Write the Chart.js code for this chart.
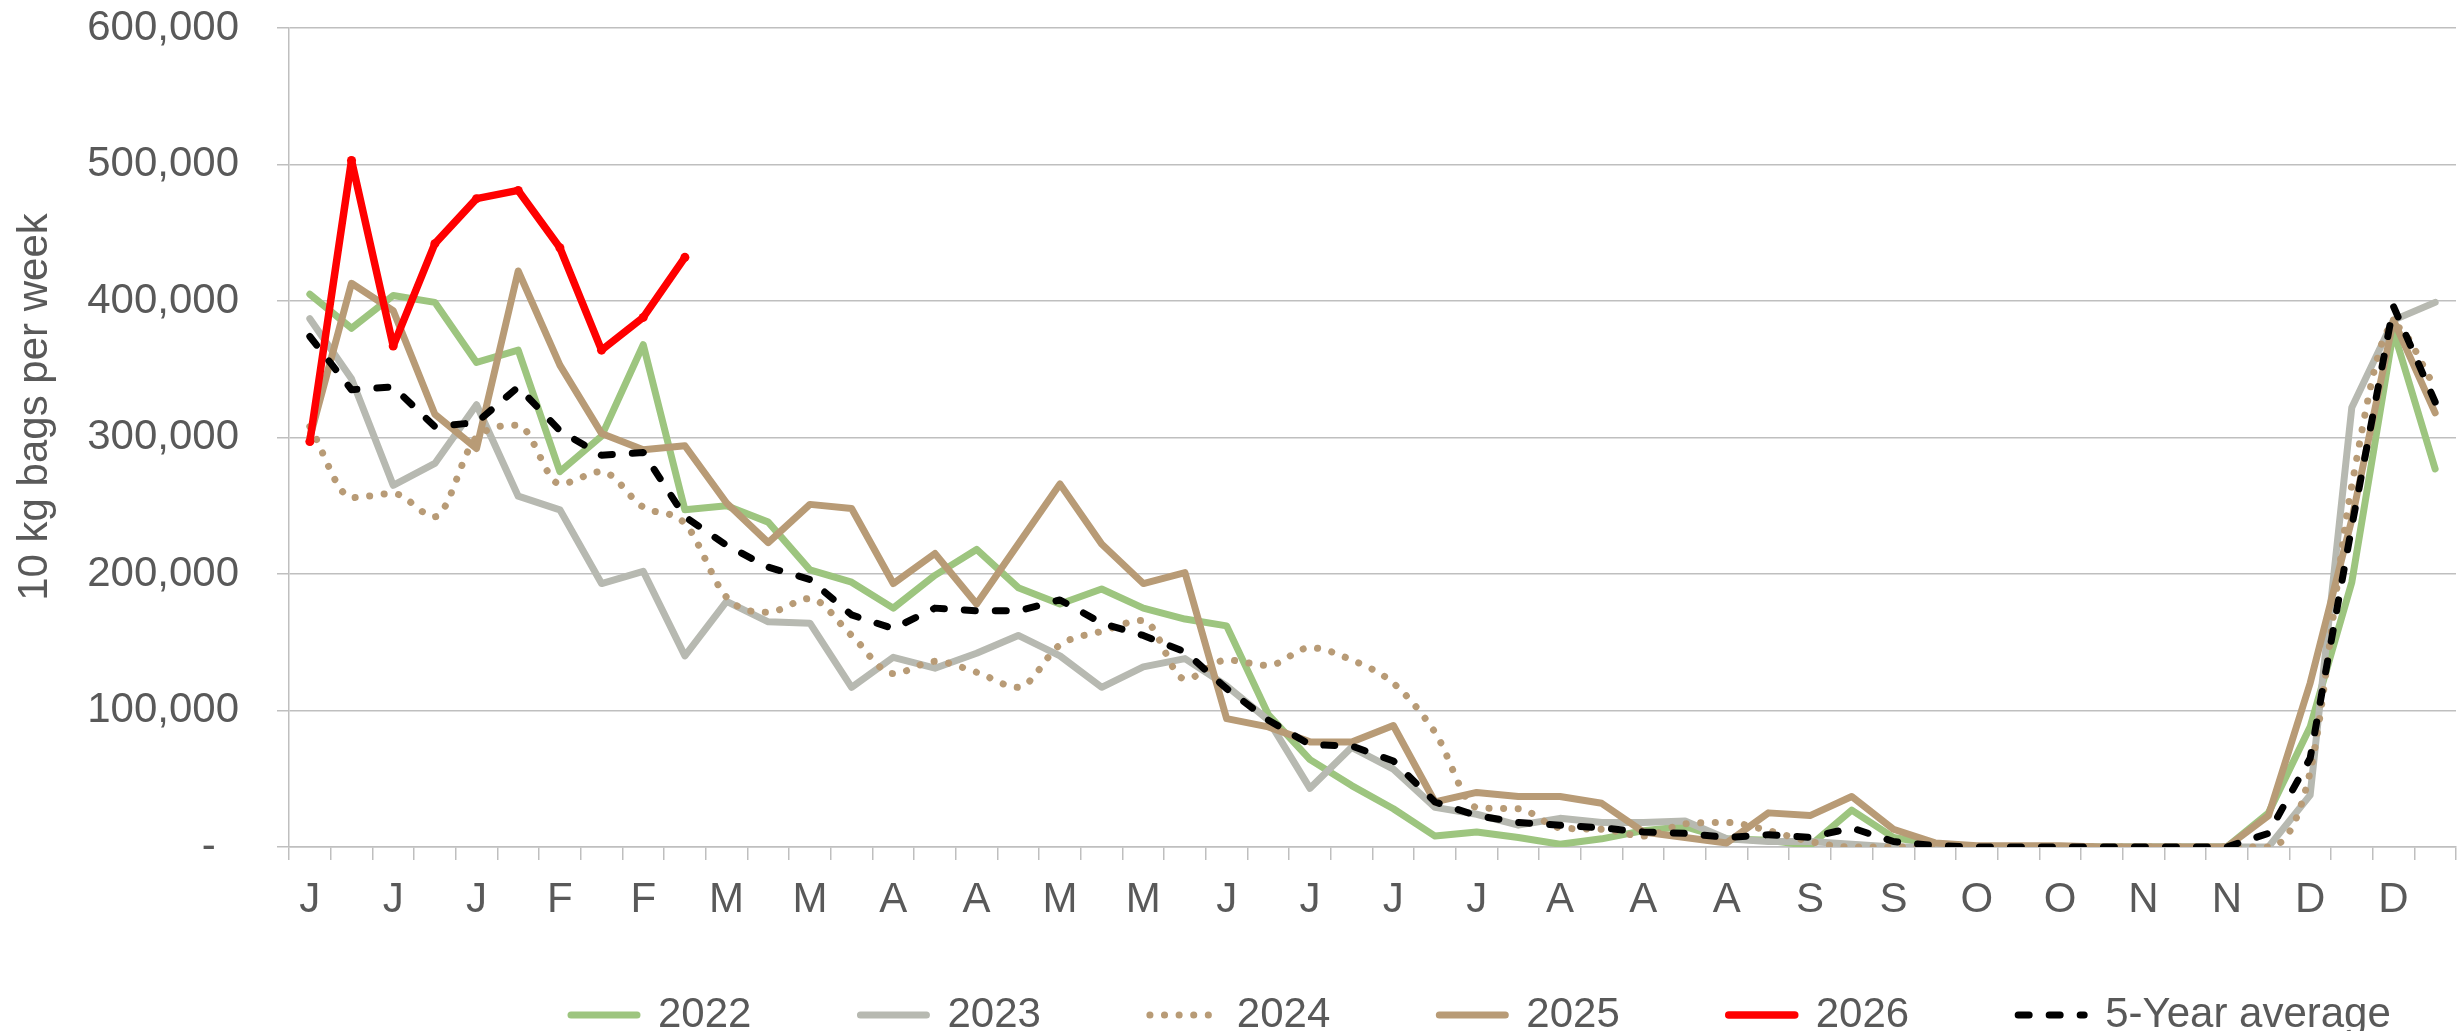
<!DOCTYPE html>
<html>
<head>
<meta charset="utf-8">
<title>10 kg bags per week</title>
<script src="https://cdn.jsdelivr.net/npm/chart.js@4.4.1/dist/chart.umd.min.js"></script>
<style>
  html, body { margin: 0; padding: 0; background: #ffffff; }
  #wrap { width: 2463px; height: 1031px; }
</style>
</head>
<body>
<div id="wrap"><canvas id="bagsChart" width="2463" height="1031"></canvas></div>
<script>
// Week numbers (x categories) and the month letter shown under every other week
const weekNumbers = [1, 2, 3, 4, 5, 6, 7, 8, 9, 10, 11, 12, 13, 14, 15, 16, 17, 18, 19, 20,
    21, 22, 23, 24, 25, 26, 27, 28, 29, 30, 31, 32, 33, 34, 35, 36, 37, 38, 39, 40,
    41, 42, 43, 44, 45, 46, 47, 48, 49, 50, 51, 52];
const monthTicks = ["J", "J", "J", "F", "F", "M", "M", "A", "A", "M", "M", "J", "J",
    "J", "J", "A", "A", "A", "S", "S", "O", "O", "N", "N", "D", "D"];

// Bags per week
const bags2022 = [405000, 380000, 404000, 399000, 355000, 364000, 275000, 301000, 368000, 247000,
    250000, 238000, 203000, 194000, 175000, 199000, 218000, 190000, 178000, 189000,
    175000, 167000, 162000, 97000, 64000, 45000, 28000, 8000, 11000, 7000,
    2000, 6000, 12000, 15000, 6000, 5000, 1000, 27000, 7000, 2000,
    0, 0, 0, 0, 0, 0, 0, 25000, 88000, 194000, 378000, 277000];
const bags2023 = [387000, 343000, 265000, 281000, 324000, 257000, 247000, 193000, 202000, 140000,
    180000, 165000, 164000, 117000, 139000, 131000, 142000, 155000, 140000, 117000,
    132000, 138000, 118000, 93000, 43000, 73000, 57000, 29000, 24000, 16000,
    21000, 18000, 18000, 19000, 6000, 4000, 4000, 2000, 0, 0,
    0, 0, 0, 0, 0, 0, 0, 0, 38000, 322000, 386000, 399000];
const bags2024 = [308000, 256000, 259000, 242000, 300000, 309000, 266000, 275000, 249000, 237000,
    183000, 172000, 182000, 155000, 127000, 136000, 128000, 117000, 148000, 158000,
    166000, 123000, 137000, 133000, 146000, 137000, 120000, 84000, 29000, 28000,
    14000, 13000, 8000, 17000, 18000, 12000, 4000, 0, 0, 0,
    0, 0, 0, 0, 0, 0, 0, 0, 55000, 265000, 382000, 337000];
const bags2025 = [300000, 413000, 393000, 317000, 292000, 422000, 353000, 303000, 291000, 294000,
    252000, 223000, 251000, 248000, 193000, 215000, 178000, 222000, 266000, 222000,
    193000, 201000, 94000, 88000, 77000, 77000, 89000, 33000, 40000, 37000,
    37000, 32000, 11000, 7000, 3000, 25000, 23000, 37000, 13000, 3000,
    1000, 1000, 1000, 0, 0, 0, 0, 23000, 120000, 240000, 386000, 318000];
const bags2026 = [297000, 503000, 367000, 442000, 475000, 481000, 439000, 364000, 388000, 432000];
const fiveYearAvg = [374000, 335000, 337000, 308000, 311000, 337000, 305000, 287000, 289000, 242000,
    221000, 205000, 196000, 170000, 160000, 175000, 173000, 173000, 181000, 164000,
    155000, 143000, 116000, 93000, 75000, 74000, 63000, 33000, 23000, 18000,
    16000, 14000, 11000, 10000, 7000, 9000, 7000, 14000, 4000, 1000,
    0, 0, 0, 0, 0, 0, 0, 10000, 65000, 235000, 396000, 326000];

const textGrey = "#595959";
const gridGrey = "#BFBFBF";
const fontFamily = "'Liberation Sans', Arial, sans-serif";

// y axis title, drawn off-centre like the original
const yTitle = {
    id: "yTitle",
    afterDraw(chart) {
        const ctx = chart.ctx;
        ctx.save();
        ctx.translate(47, 407);
        ctx.rotate(-Math.PI / 2);
        ctx.font = "42px " + fontFamily;
        ctx.fillStyle = textGrey;
        ctx.textAlign = "center";
        ctx.textBaseline = "alphabetic";
        ctx.fillText("10 kg bags per week", 0, 0);
        ctx.restore();
    },
};

// move the legend row to where it sits in the original
const legendPlace = {
    id: "legendPlace",
    afterLayout(chart) {
        const lg = chart.legend;
        const pad = lg.options.labels.padding;
        const dx = 571 - pad - lg.left;
        lg.left += dx;
        lg.right += dx;
        lg.top = 1015 - 21 - pad;
        lg.bottom = chart.height + 20; // legend clips to its own box
    },
};

// legend swatches: a short line with the series' own width, colour and dash
function legendLines(chart) {
    const items = Chart.defaults.plugins.legend.labels.generateLabels(chart);
    items.forEach((item) => {
        const ds = chart.data.datasets[item.datasetIndex];
        item.strokeStyle = ds.borderColor;
        item.fillStyle = ds.borderColor;
        item.lineWidth = ds.borderWidth;
        item.lineDash = ds.borderDash || [];
        item.lineCap = ds.borderCapStyle;
        item.pointStyle = "line";
    });
    return items;
}

function lineSet(label, data, color, extra) {
    return Object.assign({
        label: label,
        data: data,
        borderColor: color,
        backgroundColor: color,
        borderWidth: 7,
        borderCapStyle: "round",
        borderJoinStyle: "round",
        pointRadius: 0,
        tension: 0,
        fill: false,
    }, extra || {});
}

const ctx = document.getElementById("bagsChart").getContext("2d");
new Chart(ctx, {
    type: "line",
    data: {
        labels: weekNumbers,
        datasets: [
            lineSet("2022", bags2022, "#9DC57F", { order: 5 }),
            lineSet("2023", bags2023, "#B7B9B1", { order: 4 }),
            lineSet("2024", bags2024, "#B89B76", {
                order: 3,
                borderDash: [0.1, 14.5],
                cubicInterpolationMode: "monotone",
            }),
            lineSet("2025", bags2025, "#B89B76", { order: 2 }),
            lineSet("2026", bags2026, "#FF0000", {
                order: 1,
                borderWidth: 7.5,
                pointRadius: 4.5,
                pointBorderWidth: 0,
                pointBackgroundColor: "#FF0000",
            }),
            lineSet("5-Year average", fiveYearAvg, "#000000", {
                order: 0,
                borderDash: [11, 20],
            }),
        ],
    },
    options: {
        responsive: false,
        animation: false,
        devicePixelRatio: 1,
        layout: { padding: { left: 0, right: 7, top: 28, bottom: 0 } },
        scales: {
            x: {
                type: "category",
                offset: true,
                grid: {
                    offset: true,
                    drawOnChartArea: false,
                    drawTicks: true,
                    tickLength: 13,
                    color: gridGrey,
                    lineWidth: 1.5,
                },
                border: { display: true, color: gridGrey, width: 1.5 },
                ticks: {
                    autoSkip: false,
                    maxRotation: 0,
                    minRotation: 0,
                    padding: 15,
                    color: textGrey,
                    font: { family: fontFamily, size: 42 },
                    callback: (value, index) => (index % 2 === 0 ? monthTicks[index / 2] : ""),
                },
                afterFit(scale) {
                    scale.height = 1031 - 847 - 60;
                },
            },
            y: {
                min: 0,
                max: 600000,
                grid: {
                    color: gridGrey,
                    lineWidth: 1.5,
                    drawTicks: true,
                    tickLength: 12,
                },
                border: { display: true, color: gridGrey, width: 1.5 },
                ticks: {
                    stepSize: 100000,
                    padding: 38,
                    color: textGrey,
                    font: { family: fontFamily, size: 42 },
                    callback: (value) => (value === 0 ? "-  " : value.toLocaleString("en-US")),
                },
                afterFit(scale) {
                    scale.width = 289;
                    scale.paddingTop = 0;
                    scale.paddingBottom = 0;
                },
            },
        },
        plugins: {
            legend: {
                position: "bottom",
                align: "start",
                maxHeight: 60,
                labels: {
                    usePointStyle: true,
                    pointStyle: "line",
                    pointStyleWidth: 66,
                    padding: 109,
                    color: textGrey,
                    font: { family: fontFamily, size: 42 },
                    sort: (a, b) => a.datasetIndex - b.datasetIndex,
                    generateLabels: legendLines,
                },
            },
            tooltip: { enabled: false },
        },
    },
    plugins: [yTitle, legendPlace],
});
</script>
</body>
</html>
